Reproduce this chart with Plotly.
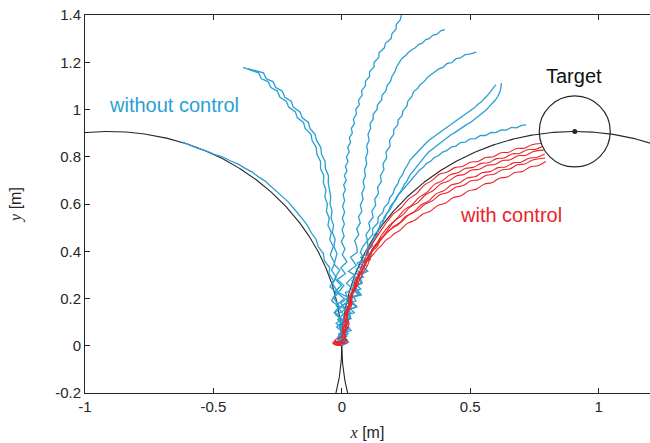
import numpy as np
import plotly.graph_objects as go

BLUE = "#2a9fd4"
RED = "#ec2329"
INK = "#262626"

# ---- guide circles (both tangent at the origin) ----
arc_radius = 0.907
left_center = (-0.907, 0.0)
right_center = (0.907, 0.0)
target_xy = (0.907, 0.907)

# ---- trajectories without control ----
free_arc = [(0, 0), (0.012, 0.025), (-0.014, 0.04), (0.006, 0.07), (-0.022, 0.095), (0.0, 0.11), (-0.03, 0.14),
            (-0.01, 0.165), (-0.04, 0.19), (-0.022, 0.225), (-0.046, 0.25), (-0.033, 0.275), (-0.05, 0.305),
            (-0.047, 0.33), (-0.068, 0.36),
            (-0.072, 0.39), (-0.092, 0.42), (-0.10, 0.45), (-0.12, 0.48), (-0.134, 0.51), (-0.152, 0.535),
            (-0.17, 0.56), (-0.19, 0.585), (-0.21, 0.61), (-0.232, 0.632), (-0.254, 0.655), (-0.278, 0.676),
            (-0.30, 0.698), (-0.326, 0.716), (-0.35, 0.736), (-0.378, 0.752), (-0.405, 0.77), (-0.435, 0.783),
            (-0.465, 0.80), (-0.497, 0.81), (-0.528, 0.825), (-0.56, 0.835), (-0.59, 0.85), (-0.62, 0.862)]

free_left_1 = [(0, 0), (-0.008, 0.035), (0.012, 0.05), (-0.02, 0.08), (0.004, 0.105), (-0.026, 0.14),
               (-0.006, 0.16), (-0.03, 0.20), (-0.014, 0.225), (-0.036, 0.262), (-0.022, 0.29), (-0.04, 0.32),
               (-0.028, 0.35), (-0.045, 0.385),
               (-0.033, 0.42), (-0.047, 0.45), (-0.041, 0.48), (-0.054, 0.51), (-0.049, 0.54),
               (-0.06, 0.57), (-0.056, 0.60), (-0.066, 0.63), (-0.062, 0.66), (-0.072, 0.69), (-0.07, 0.72),
               (-0.083, 0.75), (-0.083, 0.78), (-0.097, 0.81), (-0.10, 0.84), (-0.116, 0.87), (-0.12, 0.895),
               (-0.143, 0.92), (-0.149, 0.945), (-0.173, 0.965), (-0.181, 0.99), (-0.207, 1.01),
               (-0.216, 1.035), (-0.241, 1.052), (-0.251, 1.078), (-0.276, 1.093), (-0.287, 1.118),
               (-0.313, 1.13), (-0.324, 1.155), (-0.35, 1.165), (-0.385, 1.178)]

free_left_2 = [(0, 0), (0.014, 0.018), (-0.01, 0.05), (0.02, 0.075), (-0.016, 0.11), (0.006, 0.135),
               (-0.022, 0.17), (0.01, 0.20), (-0.026, 0.23), (-0.002, 0.255), (-0.028, 0.285), (-0.008, 0.32),
               (-0.03, 0.345), (-0.019, 0.39),
               (-0.031, 0.42), (-0.026, 0.45), (-0.037, 0.48), (-0.032, 0.51), (-0.042, 0.54),
               (-0.038, 0.57), (-0.046, 0.60), (-0.043, 0.63), (-0.048, 0.66), (-0.053, 0.69), (-0.052, 0.72),
               (-0.064, 0.75), (-0.065, 0.78), (-0.079, 0.81), (-0.082, 0.84), (-0.099, 0.87), (-0.104, 0.895),
               (-0.124, 0.92), (-0.13, 0.945), (-0.154, 0.965), (-0.163, 0.99), (-0.189, 1.01),
               (-0.197, 1.035), (-0.222, 1.052), (-0.232, 1.078), (-0.257, 1.093), (-0.268, 1.118),
               (-0.294, 1.13), (-0.305, 1.155), (-0.33, 1.163), (-0.365, 1.173)]

free_up = [(0, 0), (0.01, 0.015), (-0.016, 0.035), (0.024, 0.06), (-0.01, 0.08), (0.012, 0.105), (-0.022, 0.13),
           (0.016, 0.155), (-0.004, 0.18), (0.026, 0.205), (-0.014, 0.225), (0.008, 0.255), (-0.018, 0.28),
           (0.014, 0.305), (-0.004, 0.33), (0.02, 0.355), (0.002, 0.385), (0.012, 0.41), (-0.002, 0.44),
           (0.009, 0.465), (0.001, 0.49), (0.01, 0.515), (0.002, 0.54), (0.011, 0.565), (0.003, 0.59),
           (0.011, 0.615), (0.005, 0.64), (0.014, 0.66), (0.007, 0.68), (0.017, 0.70), (0.010, 0.72),
           (0.020, 0.74), (0.014, 0.76), (0.024, 0.78), (0.018, 0.80), (0.029, 0.82), (0.023, 0.84),
           (0.034, 0.86), (0.029, 0.88), (0.041, 0.90), (0.037, 0.92), (0.049, 0.94), (0.045, 0.96),
           (0.057, 0.98), (0.054, 1.00), (0.068, 1.02), (0.065, 1.04), (0.079, 1.06), (0.077, 1.08),
           (0.092, 1.10), (0.092, 1.12), (0.108, 1.14), (0.108, 1.16), (0.125, 1.18), (0.126, 1.20),
           (0.144, 1.22), (0.145, 1.24), (0.165, 1.26), (0.17, 1.28), (0.192, 1.30), (0.195, 1.32),
           (0.211, 1.34), (0.212, 1.36), (0.228, 1.38), (0.232, 1.40)]

free_mid_1 = [(0, 0), (-0.01, 0.03), (0.024, 0.05), (-0.006, 0.075), (0.018, 0.10), (0.008, 0.125),
              (0.036, 0.14), (-0.004, 0.165), (0.028, 0.19), (0.014, 0.225), (0.044, 0.24), (0.018, 0.265),
              (0.05, 0.30), (0.026, 0.315), (0.056, 0.34), (0.034, 0.375), (0.06, 0.395), (0.058, 0.42),
              (0.05, 0.445),
              (0.066, 0.47), (0.058, 0.495), (0.072, 0.52), (0.065, 0.545), (0.078, 0.57), (0.072, 0.595),
              (0.083, 0.62), (0.078, 0.645), (0.088, 0.67), (0.083, 0.695), (0.092, 0.72), (0.088, 0.745),
              (0.097, 0.77), (0.093, 0.795), (0.101, 0.82), (0.097, 0.845), (0.106, 0.87), (0.102, 0.895),
              (0.112, 0.92), (0.11, 0.94), (0.122, 0.96), (0.122, 0.98), (0.137, 1.0), (0.139, 1.02),
              (0.155, 1.04), (0.157, 1.06), (0.172, 1.08), (0.176, 1.10), (0.19, 1.12), (0.195, 1.14),
              (0.207, 1.16), (0.213, 1.18), (0.226, 1.20), (0.233, 1.215), (0.25, 1.23), (0.258, 1.24),
              (0.275, 1.255), (0.285, 1.26), (0.30, 1.276), (0.312, 1.28), (0.327, 1.296), (0.34, 1.30),
              (0.355, 1.315), (0.37, 1.318), (0.385, 1.333), (0.401, 1.338)]

free_mid_2 = [(0, 0), (0.026, 0.015), (-0.012, 0.05), (0.02, 0.065), (0.0, 0.10), (0.036, 0.115), (0.01, 0.15),
              (0.04, 0.175), (0.022, 0.20), (0.064, 0.215), (0.036, 0.25), (0.062, 0.275), (0.046, 0.30),
              (0.082, 0.315), (0.06, 0.35), (0.09, 0.365), (0.072, 0.395), (0.082, 0.42), (0.10, 0.445),
              (0.094, 0.47), (0.11, 0.495), (0.105, 0.52), (0.122, 0.545), (0.117, 0.57), (0.132, 0.595),
              (0.128, 0.62), (0.143, 0.645), (0.139, 0.67), (0.154, 0.695), (0.15, 0.72), (0.164, 0.745),
              (0.16, 0.77), (0.175, 0.795), (0.172, 0.82), (0.188, 0.845), (0.186, 0.87), (0.202, 0.895),
              (0.202, 0.915), (0.218, 0.935), (0.219, 0.955), (0.235, 0.975), (0.238, 0.995), (0.254, 1.015),
              (0.257, 1.035), (0.273, 1.055), (0.279, 1.075), (0.296, 1.09), (0.305, 1.105), (0.322, 1.12),
              (0.332, 1.135), (0.348, 1.148), (0.362, 1.158), (0.378, 1.172), (0.394, 1.178), (0.41, 1.195),
              (0.428, 1.198), (0.445, 1.215), (0.462, 1.218), (0.48, 1.232), (0.498, 1.234), (0.524, 1.243)]

free_right_1 = [(0, 0), (-0.016, 0.025), (0.02, 0.04), (-0.004, 0.075), (0.026, 0.09), (0.006, 0.125),
                (0.05, 0.14), (0.012, 0.175), (0.055, 0.19), (0.036, 0.225), (0.074, 0.24), (0.04, 0.275),
                (0.084, 0.29), (0.056, 0.325), (0.094, 0.34), (0.074, 0.375), (0.104, 0.39), (0.102, 0.42),
                (0.10, 0.445), (0.12, 0.47), (0.12, 0.495), (0.14, 0.52), (0.142, 0.545), (0.16, 0.565),
                (0.165, 0.585), (0.182, 0.605), (0.186, 0.625), (0.20, 0.645), (0.205, 0.665), (0.218, 0.685),
                (0.224, 0.705), (0.237, 0.725), (0.244, 0.745), (0.256, 0.765), (0.265, 0.785), (0.278, 0.80),
                (0.29, 0.815), (0.302, 0.83), (0.315, 0.845), (0.328, 0.858), (0.342, 0.872), (0.355, 0.882),
                (0.37, 0.895), (0.383, 0.905), (0.398, 0.918), (0.412, 0.928), (0.427, 0.94), (0.442, 0.952),
                (0.457, 0.962), (0.472, 0.975), (0.487, 0.985), (0.502, 0.998), (0.517, 1.008), (0.53, 1.022),
                (0.543, 1.032), (0.556, 1.048), (0.566, 1.058), (0.578, 1.075), (0.586, 1.085), (0.60, 1.105)]

free_right_2 = [(0, 0), (0.022, 0.025), (-0.008, 0.04), (0.03, 0.075), (0.002, 0.09), (0.034, 0.125),
                (0.018, 0.15), (0.06, 0.165), (0.024, 0.20), (0.076, 0.215), (0.05, 0.25), (0.08, 0.265),
                (0.066, 0.30), (0.10, 0.315), (0.07, 0.35), (0.11, 0.365), (0.092, 0.40), (0.106, 0.42),
                (0.125, 0.445), (0.127, 0.47), (0.146, 0.495), (0.15, 0.52), (0.168, 0.54), (0.175, 0.56),
                (0.19, 0.58), (0.198, 0.60), (0.212, 0.62), (0.22, 0.64), (0.233, 0.66), (0.242, 0.68),
                (0.255, 0.70), (0.264, 0.72), (0.277, 0.738), (0.287, 0.756), (0.30, 0.772), (0.312, 0.79),
                (0.325, 0.804), (0.338, 0.82), (0.352, 0.832), (0.366, 0.846), (0.38, 0.857), (0.395, 0.87),
                (0.41, 0.88), (0.425, 0.893), (0.44, 0.902), (0.456, 0.915), (0.471, 0.924), (0.487, 0.937),
                (0.502, 0.946), (0.518, 0.96), (0.532, 0.97), (0.547, 0.985), (0.56, 0.996), (0.574, 1.012),
                (0.586, 1.024), (0.598, 1.04), (0.607, 1.055), (0.616, 1.075), (0.62, 1.095), (0.621, 1.112)]

free_low = [(0, 0), (0.014, 0.015), (-0.004, 0.05), (0.036, 0.065), (0.004, 0.10), (0.034, 0.115), (0.016, 0.15),
            (0.056, 0.165), (0.018, 0.20), (0.07, 0.215), (0.046, 0.25), (0.074, 0.265), (0.064, 0.30),
            (0.10, 0.315), (0.07, 0.35), (0.11, 0.365), (0.098, 0.40), (0.118, 0.42), (0.12, 0.445),
            (0.138, 0.47), (0.142, 0.495), (0.16, 0.52), (0.165, 0.545), (0.182, 0.57), (0.19, 0.592),
            (0.205, 0.612), (0.214, 0.63), (0.228, 0.648), (0.238, 0.664), (0.252, 0.682), (0.263, 0.696),
            (0.277, 0.714), (0.289, 0.726), (0.303, 0.744), (0.316, 0.754), (0.33, 0.772), (0.345, 0.78),
            (0.36, 0.797), (0.376, 0.804), (0.392, 0.82), (0.409, 0.826), (0.426, 0.841), (0.444, 0.845),
            (0.462, 0.86), (0.481, 0.862), (0.50, 0.876), (0.52, 0.877), (0.54, 0.89), (0.56, 0.89),
            (0.58, 0.903), (0.60, 0.902), (0.62, 0.914), (0.64, 0.913), (0.66, 0.924), (0.68, 0.922),
            (0.70, 0.933), (0.718, 0.935)]

# ---- trajectories with control ----
ctrl_1 = [(0, 0), (-0.035, 0.015), (0.005, 0.02), (0.0, 0.06), (0.016, 0.1), (0.01, 0.13), (0.028, 0.17),
          (0.028, 0.2), (0.046, 0.24), (0.05, 0.27), (0.068, 0.31), (0.078, 0.34), (0.092, 0.37), (0.1, 0.4),
          (0.118, 0.43), (0.13, 0.45), (0.148, 0.48), (0.16, 0.5), (0.18, 0.53),
          (0.20, 0.557), (0.23, 0.583), (0.26, 0.621), (0.29, 0.643), (0.32, 0.679), (0.35, 0.699),
          (0.38, 0.726), (0.41, 0.735), (0.44, 0.754), (0.47, 0.759), (0.50, 0.777), (0.53, 0.780),
          (0.56, 0.797), (0.59, 0.800), (0.62, 0.817), (0.65, 0.819), (0.68, 0.835), (0.71, 0.836),
          (0.74, 0.851), (0.775, 0.856)]

ctrl_2 = [(0, 0), (-0.035, 0.01), (0.01, 0.03), (0.005, 0.07), (0.022, 0.1), (0.015, 0.14), (0.033, 0.17),
          (0.035, 0.21), (0.052, 0.24), (0.058, 0.28), (0.073, 0.31), (0.088, 0.34), (0.098, 0.37), (0.11, 0.39),
          (0.125, 0.42), (0.14, 0.44), (0.155, 0.47), (0.17, 0.49), (0.19, 0.515),
          (0.212, 0.535), (0.242, 0.574), (0.272, 0.595), (0.302, 0.629), (0.332, 0.650), (0.362, 0.684),
          (0.392, 0.699), (0.422, 0.724), (0.452, 0.732), (0.482, 0.751), (0.512, 0.755), (0.542, 0.772),
          (0.572, 0.775), (0.602, 0.792), (0.632, 0.795), (0.662, 0.812), (0.692, 0.814), (0.722, 0.830),
          (0.752, 0.831), (0.782, 0.843)]

ctrl_3 = [(0, 0), (-0.03, 0.02), (0.01, 0.01), (0.012, 0.05), (0.002, 0.09), (0.022, 0.12), (0.02, 0.16),
          (0.038, 0.19), (0.04, 0.23), (0.058, 0.26), (0.065, 0.29), (0.082, 0.32), (0.09, 0.35), (0.108, 0.37),
          (0.12, 0.4), (0.138, 0.42), (0.15, 0.45), (0.165, 0.47), (0.185, 0.5),
          (0.206, 0.530), (0.236, 0.553), (0.266, 0.587), (0.296, 0.606), (0.326, 0.639), (0.356, 0.657),
          (0.386, 0.686), (0.416, 0.697), (0.446, 0.719), (0.476, 0.725), (0.506, 0.744), (0.536, 0.747),
          (0.566, 0.764), (0.596, 0.767), (0.626, 0.784), (0.656, 0.787), (0.686, 0.804), (0.716, 0.806),
          (0.746, 0.822), (0.786, 0.828)]

ctrl_4 = [(0, 0), (-0.03, 0.005), (0.015, 0.02), (0.008, 0.06), (0.023, 0.1), (0.018, 0.14), (0.033, 0.18),
          (0.04, 0.22), (0.056, 0.26), (0.065, 0.29), (0.08, 0.32), (0.095, 0.35), (0.107, 0.38),
          (0.12, 0.405), (0.135, 0.425), (0.15, 0.445), (0.165, 0.465), (0.182, 0.485), (0.2, 0.5),
          (0.218, 0.511), (0.248, 0.547), (0.278, 0.564), (0.308, 0.596), (0.338, 0.612), (0.368, 0.644),
          (0.398, 0.657), (0.428, 0.681), (0.458, 0.689), (0.488, 0.710), (0.518, 0.715), (0.548, 0.733),
          (0.578, 0.737), (0.608, 0.754), (0.638, 0.757), (0.668, 0.774), (0.698, 0.777), (0.728, 0.794),
          (0.758, 0.797), (0.79, 0.812)]

ctrl_5 = [(0, 0), (-0.025, 0.025), (0.0, 0.04), (0.018, 0.08), (0.012, 0.12), (0.028, 0.16), (0.028, 0.2),
          (0.046, 0.24), (0.055, 0.27), (0.07, 0.3), (0.083, 0.33), (0.095, 0.36), (0.108, 0.385),
          (0.12, 0.41), (0.135, 0.43), (0.148, 0.45), (0.162, 0.465), (0.178, 0.48), (0.192, 0.495),
          (0.203, 0.506), (0.233, 0.525), (0.263, 0.556), (0.293, 0.571), (0.323, 0.599), (0.353, 0.614),
          (0.383, 0.640), (0.413, 0.649), (0.443, 0.671), (0.473, 0.678), (0.503, 0.698), (0.533, 0.703),
          (0.563, 0.722), (0.593, 0.726), (0.623, 0.744), (0.653, 0.748), (0.683, 0.766), (0.713, 0.769),
          (0.743, 0.786), (0.792, 0.795)]

ctrl_6 = [(0, 0), (-0.03, 0.02), (0.02, 0.01), (0.01, 0.05), (0.028, 0.09), (0.02, 0.13), (0.038, 0.17),
          (0.04, 0.21), (0.058, 0.25), (0.07, 0.28), (0.084, 0.31), (0.1, 0.34), (0.11, 0.37), (0.125, 0.39),
          (0.14, 0.41), (0.155, 0.425), (0.17, 0.445), (0.19, 0.46), (0.205, 0.475),
          (0.224, 0.487), (0.254, 0.517), (0.284, 0.531), (0.314, 0.557), (0.344, 0.569), (0.374, 0.594),
          (0.404, 0.604), (0.434, 0.627), (0.464, 0.635), (0.494, 0.656), (0.524, 0.663), (0.554, 0.684),
          (0.584, 0.690), (0.614, 0.709), (0.644, 0.714), (0.674, 0.733), (0.704, 0.738), (0.734, 0.757),
          (0.764, 0.762), (0.794, 0.780)]

free_runs = [free_arc, free_left_1, free_left_2, free_up, free_mid_1, free_mid_2,
             free_right_1, free_right_2, free_low]
ctrl_runs = [ctrl_1, ctrl_2, ctrl_3, ctrl_4, ctrl_5, ctrl_6]

x_ticks = [-1, -0.5, 0, 0.5, 1]
y_ticks = [-0.2, 0, 0.2, 0.4, 0.6, 0.8, 1, 1.2, 1.4]

fig = go.Figure()


def circle_arc(center, radius, t0, t1):
    t = np.radians(np.linspace(t0, t1, 400))
    return center[0] + radius * np.cos(t), center[1] + radius * np.sin(t)


for center, (t0, t1) in [(left_center, (100, -14)), (right_center, (194, 60))]:
    ax, ay = circle_arc(center, arc_radius, t0, t1)
    fig.add_trace(go.Scatter(x=ax, y=ay, mode="lines", line=dict(color=INK, width=1.1),
                             hoverinfo="skip", showlegend=False))

for run in free_runs:
    xs, ys = zip(*run)
    fig.add_trace(go.Scatter(x=xs, y=ys, mode="lines", line=dict(color=BLUE, width=1.3),
                             showlegend=False))

for run in ctrl_runs:
    xs, ys = zip(*run)
    fig.add_trace(go.Scatter(x=xs, y=ys, mode="lines", line=dict(color=RED, width=1.1, shape="spline"),
                             showlegend=False))

# target region and its centre
fig.add_trace(go.Scatter(x=[target_xy[0]], y=[target_xy[1]], mode="markers",
                         marker=dict(symbol="circle-open", size=71, color=INK, line=dict(color=INK, width=1.2)),
                         showlegend=False))
fig.add_trace(go.Scatter(x=[target_xy[0]], y=[target_xy[1]], mode="markers",
                         marker=dict(symbol="circle", size=5, color=INK), showlegend=False))

label_font = "Liberation Sans, Arial, sans-serif"
fig.add_annotation(x=-0.915, y=1.02, text="without control", showarrow=False, xanchor="left",
                   font=dict(family=label_font, size=20, color=BLUE))
fig.add_annotation(x=0.905, y=1.14, text="Target", showarrow=False, xanchor="center",
                   font=dict(family=label_font, size=20, color="#111111"))
fig.add_annotation(x=0.452, y=0.552, text="with control", showarrow=False, xanchor="left",
                   font=dict(family=label_font, size=20, color=RED))

axis_common = dict(showgrid=False, zeroline=False, showline=True, linecolor=INK, linewidth=1,
                   ticks="inside", ticklen=5, tickcolor=INK,
                   tickfont=dict(family=label_font, size=15, color=INK))

fig.update_xaxes(range=[-1, 1.2], tickvals=x_ticks, ticktext=[f"{v:g}" for v in x_ticks],
                 mirror="ticks",
                 title=dict(text='<span style="font-family:Liberation Serif"><i>x</i></span> [m]',
                            font=dict(family=label_font, size=16, color=INK), standoff=12),
                 **axis_common)
fig.update_yaxes(range=[-0.2, 1.4], tickvals=y_ticks, ticktext=[f"{v:g}" for v in y_ticks],
                 mirror=False,
                 title=dict(text='<span style="font-family:Liberation Serif"><i>y</i></span> [m]',
                            font=dict(family=label_font, size=16, color=INK), standoff=29),
                 **axis_common)

fig.update_layout(width=650, height=443, margin=dict(l=85, r=0, t=15, b=50),
                  plot_bgcolor="white", paper_bgcolor="white", showlegend=False)

fig.write_html("out.html")
